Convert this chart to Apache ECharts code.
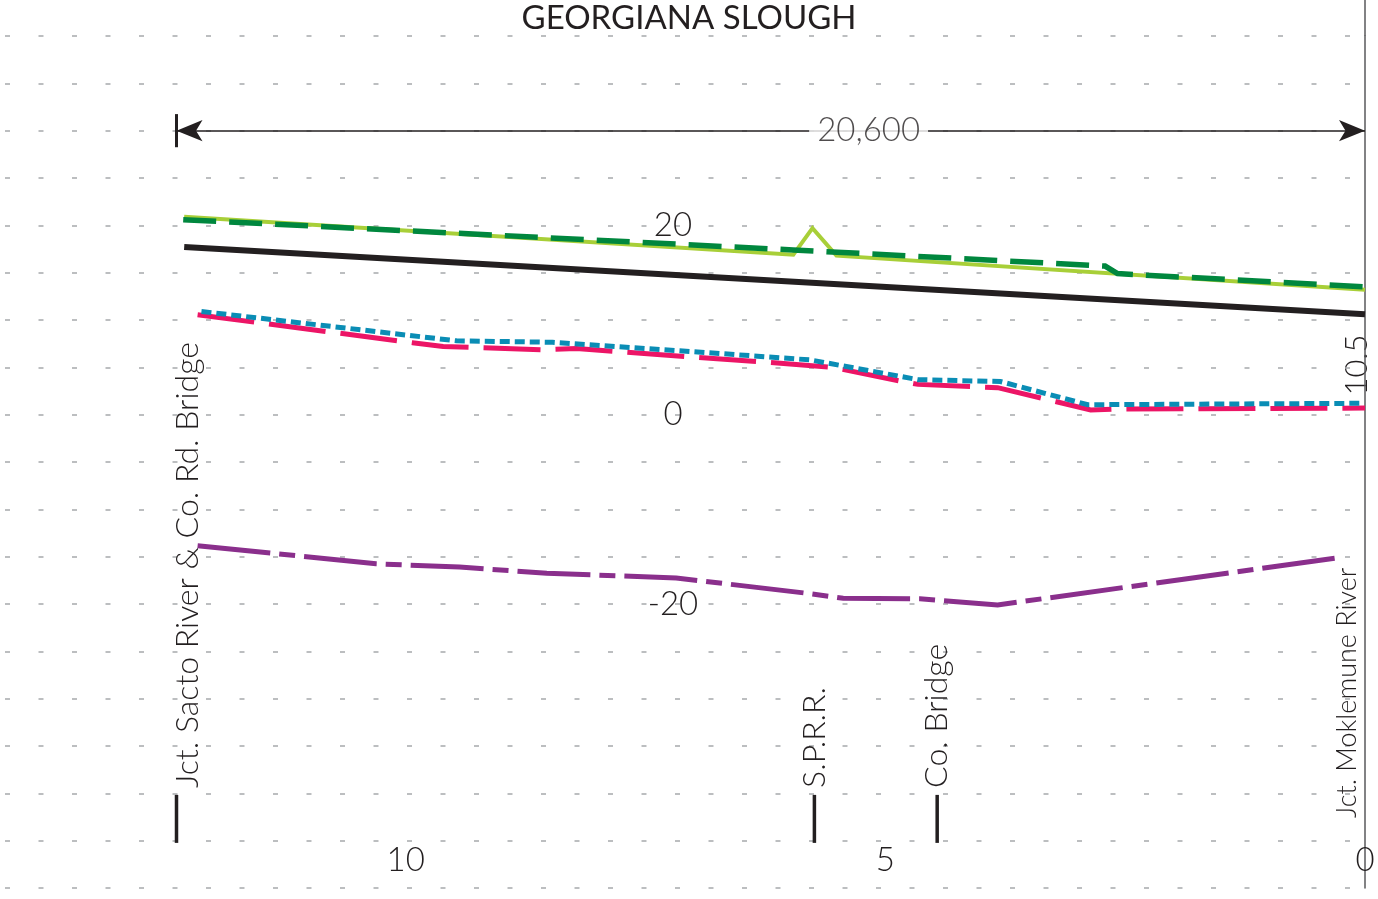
<!DOCTYPE html>
<html>
<head>
<meta charset="utf-8">
<title>Georgiana Slough</title>
<script src="https://cdn.jsdelivr.net/npm/echarts@6/dist/echarts.min.js"></script>
<style>
html, body { margin: 0; padding: 0; background: #fff; }
#profile { width: 1378px; height: 899px; }
</style>
</head>
<body>
<div id="profile"></div>
<script>
// river mile (0 = Jct. Moklemune River, increasing upstream to the left) vs elevation
const TITLE = 'GEORGIANA SLOUGH';
const MILE_MAX = 14.23;
const ELEV_MIN = -50, ELEV_MAX = 40;
const ELEV_LABELS = [-20, 0, 20];
const MILE_LABELS = [0, 5, 10];

const greenSolid   = [[12.31, 20.9], [5.96, 16.9], [5.76, 19.7], [5.51, 16.8], [0, 13.2]];
const greenDashed  = [[12.32, 20.6], [5.96, 17.4], [2.71, 15.7], [2.58, 14.9], [0, 13.5]];
const blackSolid   = [[12.31, 17.7], [0, 10.6]];
const redDashed    = [[12.17, 10.55], [9.93, 7.6], [9.61, 7.2], [8.57, 6.85], [8.22, 6.98],
                      [7.04, 6.1], [6.31, 5.6], [5.55, 5.0], [4.82, 3.5], [4.66, 3.2],
                      [3.83, 2.85], [2.86, 0.5], [2.58, 0.6], [0, 0.7]];
const blueDotted   = [[12.13, 10.9], [9.47, 7.8], [8.47, 7.65], [7.01, 6.66], [5.79, 5.79],
                      [5.44, 5.15], [4.66, 3.7], [3.80, 3.5], [2.89, 1.05], [0.03, 1.2]];
const purpleDashDot = [[12.17, -13.85], [10.31, -15.75], [9.44, -16.1], [8.53, -16.75],
                       [7.18, -17.25], [5.79, -18.9], [5.44, -19.4], [4.64, -19.45],
                       [3.83, -20.1], [0.30, -15.15]];

const landmarks = ['Jct. Sacto River & Co. Rd. Bridge', 'S.P.R.R.', 'Co. Bridge', 'Jct. Moklemune River'];
const landmarkMiles = [12.39, 5.74, 4.46, 0];

const spanMiles = [12.39, 0];
const spanElev = 30;
const spanLabel = '20,600';
const endNote = '10.5';

const FONT = 'Lato';
const INK = '#231F20';

function lineSeries(name, data, color, width, dash, z) {
  return {
    name: name, type: 'line', data: data, showSymbol: false, symbol: 'none',
    z: z, silent: true,
    lineStyle: { color: color, width: width, type: dash, cap: 'butt', join: 'miter' }
  };
}

const chart = echarts.init(document.getElementById('profile'));

const option = {
  backgroundColor: '#fff',
  animation: false,
  title: {
    text: TITLE, left: 'center', top: -3,
    textStyle: { fontFamily: FONT, fontSize: 33, fontWeight: 400, color: INK }
  },
  grid: { left: 0, right: 13, top: 36, bottom: 11 },
  xAxis: {
    type: 'value', min: 0, max: MILE_MAX, interval: 5, inverse: true,
    axisLine: { show: false }, axisTick: { show: false }, splitLine: { show: false },
    axisLabel: {
      inside: true, margin: 28, verticalAlign: 'middle', showMaxLabel: false,
      fontFamily: FONT, fontWeight: 300, fontSize: 33, color: INK,
      formatter: v => MILE_LABELS.indexOf(v) >= 0 ? String(v) : ''
    }
  },
  yAxis: [{
    type: 'value', position: 'right', min: ELEV_MIN, max: ELEV_MAX, interval: 5,
    axisLine: { show: true, lineStyle: { color: '#58595B', width: 1.5 } },
    axisTick: { show: false }, axisLabel: { show: false },
    splitLine: { show: true, lineStyle: { color: '#A7A9AC', width: 1.5, type: [5, 28.5], dashOffset: 28.5 } }
  }, {
    type: 'value', position: 'left', offset: -673, min: ELEV_MIN, max: ELEV_MAX, interval: 10,
    axisLine: { show: false }, axisTick: { show: false }, splitLine: { show: false },
    axisLabel: {
      margin: 0, align: 'center', fontFamily: FONT, fontWeight: 300, fontSize: 33, color: INK,
      formatter: v => ELEV_LABELS.indexOf(v) >= 0 ? String(v) : ''
    }
  }],
  graphic: [
    { type: 'line', shape: { x1: 1365, y1: 0, x2: 1365, y2: 36 }, style: { stroke: '#58595B', lineWidth: 1.5 } },
    { type: 'text', x: 1357, y: 365, rotation: Math.PI / 2,
      style: { text: endNote, fontFamily: FONT, fontWeight: 300, fontSize: 31, fill: INK, align: 'center', verticalAlign: 'middle' } }
  ],
  series: [
    lineSeries('greenSolid', greenSolid, '#A8CF38', 4, 'solid', 2),
    lineSeries('greenDashed', greenDashed, '#00873E', 5.5, [33, 13], 3),
    Object.assign(lineSeries('blackSolid', blackSolid, INK, 6, 'solid', 4), {
      markLine: {
        silent: true, animation: false,
        symbol: ['arrow', 'arrow'], symbolSize: [16, 26],
        lineStyle: { color: INK, width: 1.5, type: 'solid' },
        label: { show: false },
        data: [
          [{ coord: [spanMiles[0], spanElev] }, { coord: [spanMiles[1], spanElev] }],
          [{ coord: [spanMiles[0], spanElev - 1.75], symbol: 'none', lineStyle: { width: 3 } },
           { coord: [spanMiles[0], spanElev + 1.75], symbol: 'none' }]
        ]
      }
    }),
    lineSeries('redDashed', redDashed, '#EC1566', 5, [57, 15], 5),
    lineSeries('blueDotted', blueDotted, '#0A8DB5', 5, [10, 5], 6),
    lineSeries('purpleDashDot', purpleDashDot, '#8A2F8C', 5, [73, 9, 16, 9], 7),
    {
      name: 'span', type: 'scatter', symbolSize: 0, silent: true, z: 8,
      data: [[(spanMiles[0] + spanMiles[1]) / 2 - 1.02, spanElev]],
      label: {
        show: true, position: 'inside', formatter: spanLabel,
        fontFamily: FONT, fontWeight: 300, fontSize: 33, color: INK,
        backgroundColor: '#fff', padding: [0, 8]
      }
    },
    {
      name: 'landmarks', type: 'scatter', symbol: 'rect', silent: true, z: 9,
      data: landmarkMiles.map((m, i) => ({
        value: [m, -42.7],
        name: landmarks[i],
        symbolSize: i === 3 ? 0 : [3.5, 48],
        label: i === 3 ? { fontSize: 27, distance: 1, offset: [0, -18] } : (i === 0 ? { offset: [0, 11] } : {})
      })),
      itemStyle: { color: INK, opacity: 1 },
      label: {
        show: true, position: 'top', distance: 7, rotate: 90, align: 'left', verticalAlign: 'middle',
        formatter: p => p.name, fontFamily: FONT, fontWeight: 300, fontSize: 32, color: INK
      }
    }
  ]
};

chart.setOption(option);
</script>
</body>
</html>
